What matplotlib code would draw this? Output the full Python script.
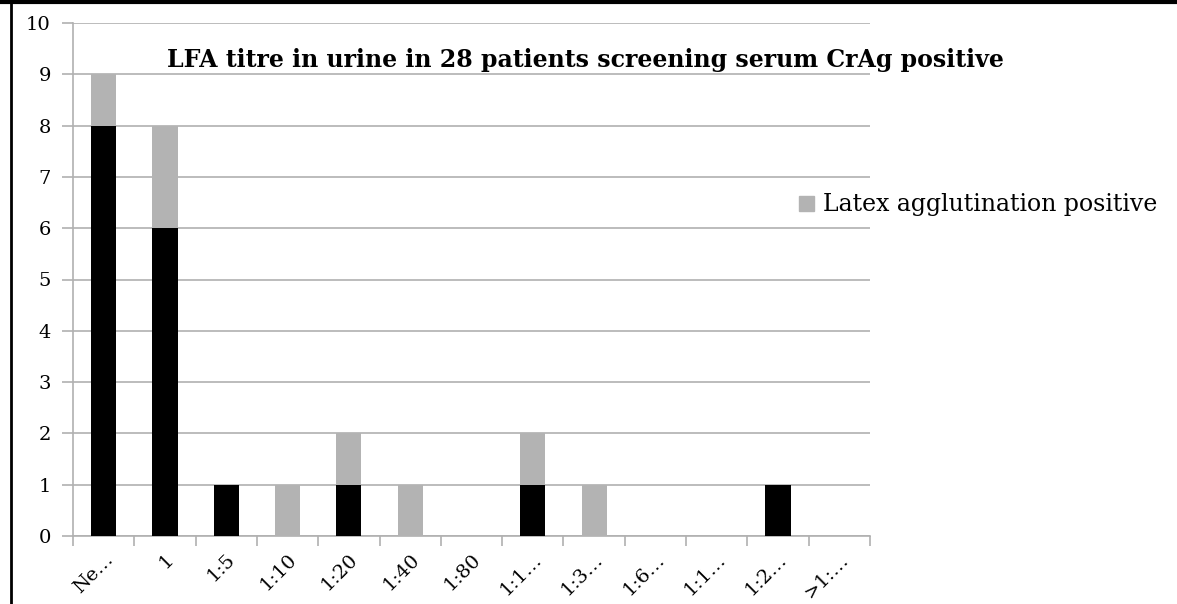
import matplotlib
matplotlib.use("Agg")
import matplotlib.pyplot as plt
from matplotlib.lines import Line2D
from matplotlib.patches import Patch
import numpy as np

categories = ["Ne…", "1", "1:5", "1:10", "1:20", "1:40", "1:80", "1:1…", "1:3…", "1:6…", "1:1…", "1:2…", ">1:…"]
la_negative = [8, 6, 1, 0, 1, 0, 0, 1, 0, 0, 0, 1, 0]
la_positive = [1, 2, 0, 1, 1, 1, 0, 1, 1, 0, 0, 0, 0]
yticks = list(range(0, 11))

plt.rcParams['font.family'] = ['DejaVu Serif', 'Liberation Serif']

fig = plt.figure(figsize=(11.77, 6.04), dpi=100)
W, H = 1177, 604
ax = fig.add_axes([73 / W, 1 - 536 / H, (870 - 73) / W, (536 - 23) / H])

x = np.arange(len(categories))
w = 0.41
ax.bar(x, la_negative, width=w, color='black', zorder=3)
ax.bar(x, la_positive, width=w, bottom=la_negative, color='#b3b3b3', zorder=3)

ax.set_xlim(-0.5, len(categories) - 0.5)
ax.set_ylim(0, 10)
ax.set_yticks(yticks)
ax.set_yticklabels([str(v) for v in yticks], fontsize=14)
ax.yaxis.grid(True, color='#b0b0b0', linewidth=1.2, zorder=0)
ax.tick_params(axis='y', length=8, color='#b0b0b0', width=1.2, pad=8)

ax.set_xticks(x)
ax.set_xticklabels(categories, rotation=45, ha='right', rotation_mode='anchor', fontsize=14)
ax.set_xticks(np.arange(-0.5, len(categories) + 0.5, 1), minor=True)
ax.tick_params(axis='x', which='major', length=0, pad=10)
ax.tick_params(axis='x', which='minor', length=7, color='#b0b0b0', width=1.2)

for s in ['top', 'right']:
    ax.spines[s].set_visible(False)
for s in ['left', 'bottom']:
    ax.spines[s].set_color('#b0b0b0')
    ax.spines[s].set_linewidth(1.2)

fig.text(585 / W, 1 - 60 / H, "LFA titre in urine in 28 patients screening serum CrAg positive",
         ha='center', va='center', fontsize=17, fontweight='bold')

fig.legend(handles=[Patch(color='#b3b3b3', label='Latex agglutination positive')],
           loc='center left', bbox_to_anchor=(790 / W, 1 - 205 / H), frameon=False,
           fontsize=17, handlelength=0.6, handleheight=0.6, handletextpad=0.4, borderaxespad=0)

# page border lines
fig.add_artist(Line2D([0, 1], [1 - 1.5 / H, 1 - 1.5 / H], transform=fig.transFigure, color='black', linewidth=3))
fig.add_artist(Line2D([11 / W, 11 / W], [0, 1], transform=fig.transFigure, color='black', linewidth=2))

fig.savefig("out.png", dpi=100)
